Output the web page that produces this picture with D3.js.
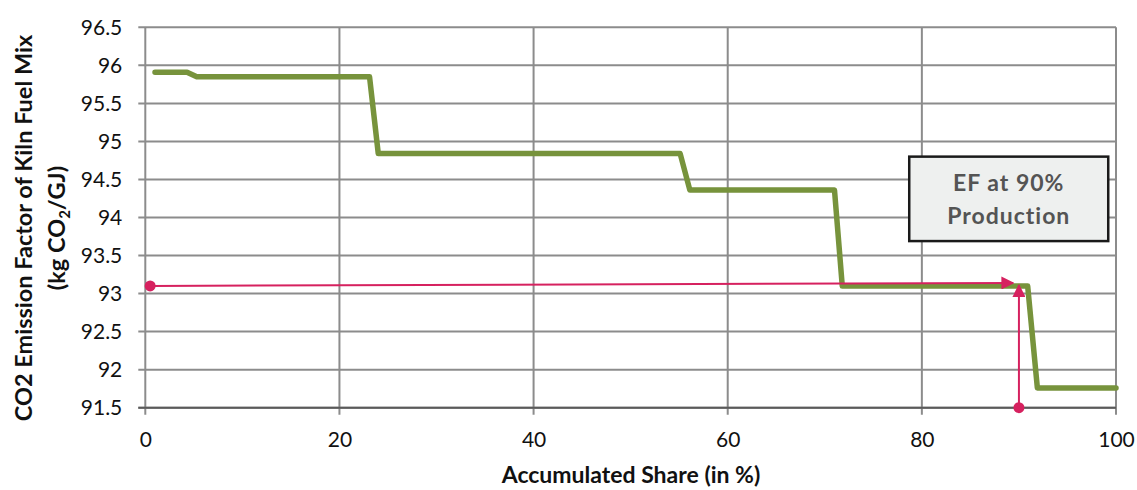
<!DOCTYPE html>
<html>
<head>
<meta charset="utf-8">
<script src="https://cdn.jsdelivr.net/npm/d3@7/dist/d3.min.js"></script>
<style>
  html, body { margin: 0; padding: 0; background: #fff; }
  svg { display: block; font-family: Lato, "Open Sans", sans-serif; }
</style>
</head>
<body>
<svg id="chart" width="1137" height="490"></svg>
<script>
// Cumulative production share (%) and the kiln fuel-mix emission factor at that share
const shareX = [1, 4.3, 5.3, 23.1, 24.0, 55.1, 56.1, 71.0, 71.8, 90.9, 91.9, 100];
const efY    = [95.91, 95.91, 95.85, 95.85, 94.84, 94.84, 94.36, 94.36, 93.10, 93.10, 91.76, 91.76];

// Tick values
const xTicks = [0, 20, 40, 60, 80, 100];
const yTicks = [91.5, 92, 92.5, 93, 93.5, 94, 94.5, 95, 95.5, 96, 96.5];

// Read-off guide: from the y axis to the 90 % point, and up from the x axis
const guideStart = [0.5, 93.10];
const guideEnd = [89.4, 93.14];
const guideBase = [90, 91.5];
const guideTop = [90, 93.11];

const boxLines = ["EF at 90%", "Production"];

(function () {
const svg = d3.select("#chart");
const mLeft = 145.3, mRight = 1116, mTop = 27.3, mBottom = 407.7;

const x = d3.scaleLinear().domain([0, 100]).range([mLeft, mRight]);
const y = d3.scaleLinear().domain([91.5, 96.5]).range([mBottom, mTop]);

// Gridlines
svg.append("g")
  .selectAll("line")
  .data(yTicks)
  .join("line")
  .attr("x1", mLeft - 7).attr("x2", mRight)
  .attr("y1", d => y(d)).attr("y2", d => y(d))
  .attr("stroke", "#8c8c8c").attr("stroke-width", 2);

svg.append("g")
  .selectAll("line")
  .data(xTicks)
  .join("line")
  .attr("x1", d => x(d)).attr("x2", d => x(d))
  .attr("y1", mTop).attr("y2", mBottom + 7)
  .attr("stroke", "#8c8c8c").attr("stroke-width", 2);

// Bottom axis line
svg.append("line")
  .attr("x1", mLeft - 7).attr("x2", mRight)
  .attr("y1", y(91.5)).attr("y2", y(91.5))
  .attr("stroke", "#5a5a5a").attr("stroke-width", 2);

// Axis labels
const yAxis = d3.axisLeft(y).tickValues(yTicks).tickSize(0).tickPadding(23)
  .tickFormat(d => d3.format("")(d));
const gy = svg.append("g").attr("transform", `translate(${mLeft},0)`).call(yAxis);
gy.select(".domain").remove();
gy.selectAll("text").attr("font-size", 21).attr("fill", "#111")
  .attr("font-family", "Lato, sans-serif");

const xAxis = d3.axisBottom(x).tickValues(xTicks).tickSize(0).tickPadding(24);
const gx = svg.append("g").attr("transform", `translate(0,${mBottom})`).call(xAxis);
gx.select(".domain").remove();
gx.selectAll("text").attr("font-size", 21).attr("fill", "#111")
  .attr("font-family", "Lato, sans-serif");

// Emission factor curve
const line = d3.line().x((d, i) => x(shareX[i])).y(d => y(d));
svg.append("path")
  .datum(efY)
  .attr("d", line)
  .attr("fill", "none")
  .attr("stroke", "#77933c")
  .attr("stroke-width", 5.5)
  .attr("stroke-linejoin", "round")
  .attr("stroke-linecap", "round");

// Arrowhead marker
const pink = "#d6215f";
svg.append("defs").append("marker")
  .attr("id", "arrow")
  .attr("viewBox", "0 0 10 10")
  .attr("refX", 9).attr("refY", 5)
  .attr("markerWidth", 13).attr("markerHeight", 13)
  .attr("markerUnits", "userSpaceOnUse")
  .attr("orient", "auto")
  .append("path")
  .attr("d", "M0,0 L10,5 L0,10 Z")
  .attr("fill", pink);

svg.append("line")
  .attr("x1", x(guideStart[0])).attr("y1", y(guideStart[1]))
  .attr("x2", x(guideEnd[0])).attr("y2", y(guideEnd[1]))
  .attr("stroke", pink).attr("stroke-width", 2)
  .attr("marker-end", "url(#arrow)");
svg.append("line")
  .attr("x1", x(guideBase[0])).attr("y1", y(guideBase[1]))
  .attr("x2", x(guideTop[0])).attr("y2", y(guideTop[1]))
  .attr("stroke", pink).attr("stroke-width", 2)
  .attr("marker-end", "url(#arrow)");
svg.append("circle").attr("cx", x(guideStart[0])).attr("cy", y(guideStart[1]))
  .attr("r", 5.5).attr("fill", pink);
svg.append("circle").attr("cx", x(guideBase[0])).attr("cy", y(guideBase[1]))
  .attr("r", 5.5).attr("fill", pink);

// Annotation box
const bx0 = x(78.7), bx1 = x(99.2), by0 = y(94.8), by1 = y(93.69);
svg.append("rect")
  .attr("x", bx0).attr("y", by0)
  .attr("width", bx1 - bx0).attr("height", by1 - by0)
  .attr("fill", "#eef0ef").attr("stroke", "#1a1a1a").attr("stroke-width", 2.5);
boxLines.forEach((t, i) => {
  svg.append("text")
    .attr("x", (bx0 + bx1) / 2).attr("y", by0 + 34 + i * 33)
    .attr("text-anchor", "middle").attr("font-weight", "bold")
    .attr("font-size", 23).attr("fill", "#545454").attr("letter-spacing", 1)
    .text(t);
});

// Axis titles
svg.append("text")
  .attr("x", 631).attr("y", 483)
  .attr("text-anchor", "middle").attr("font-weight", "bold")
  .attr("font-size", 23).attr("fill", "#111")
  .text("Accumulated Share (in %)");

const yt = svg.append("text")
  .attr("transform", "translate(0,228) rotate(-90)")
  .attr("text-anchor", "middle").attr("font-weight", "bold")
  .attr("font-size", 23.5).attr("fill", "#111");
yt.append("tspan").attr("x", 0).attr("y", 32).text("CO2 Emission Factor of Kiln Fuel Mix");
const t2 = yt.append("tspan").attr("x", 0).attr("y", 65);
t2.append("tspan").text("(kg CO");
t2.append("tspan").attr("font-size", 15).attr("dy", 5).text("2");
t2.append("tspan").attr("dy", -5).text("/GJ)");
})();
</script>
</body>
</html>
